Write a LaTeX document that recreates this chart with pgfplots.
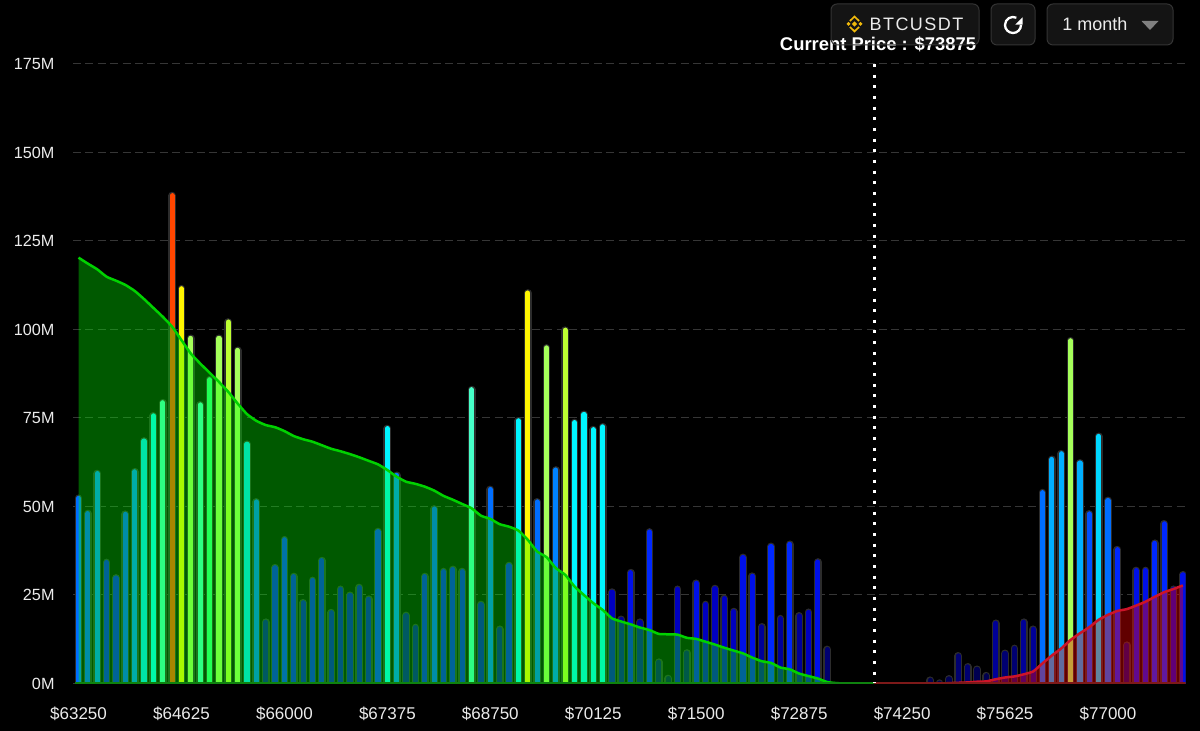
\documentclass[border=0pt]{standalone}
\usepackage{fontspec}
\setmainfont{Liberation Sans}
\usepackage{pgfplots}
\usepackage{pgfplotstable}
\pgfplotsset{compat=1.18}
\definecolor{ca}{RGB}{0,0,80}
\definecolor{cb}{RGB}{0,0,112}
\definecolor{cc}{RGB}{0,0,152}
\definecolor{cd}{RGB}{0,0,192}
\definecolor{ce}{RGB}{0,16,232}
\definecolor{cf}{RGB}{0,40,255}
\definecolor{cg}{RGB}{0,80,255}
\definecolor{ch}{RGB}{0,110,255}
\definecolor{ci}{RGB}{0,130,255}
\definecolor{cj}{RGB}{0,175,255}
\definecolor{ck}{RGB}{0,215,255}
\definecolor{cl}{RGB}{0,245,255}
\definecolor{cm}{RGB}{70,255,200}
\definecolor{cn}{RGB}{50,255,130}
\definecolor{co}{RGB}{165,255,90}
\definecolor{cp}{RGB}{190,255,50}
\definecolor{cq}{RGB}{255,245,0}
\definecolor{cr}{RGB}{255,70,0}
\pgfplotstableread{
i v
0 120.3
1 118.6
2 117
3 114.9
4 113.8
5 112.6
6 110.9
7 108.6
8 106.1
9 103.6
10 100.8
11 97
12 93.2
13 90.4
14 87.8
15 85.2
16 82.4
17 79.1
18 76.1
19 74.2
20 73
21 72.4
22 71.3
23 69.9
24 69
25 68.3
26 67.3
27 66.3
28 65.6
29 64.8
30 63.9
31 62.9
32 61.9
33 60.3
34 58.4
35 57
36 56.4
37 55.6
38 54.5
39 53
40 51.9
41 50.7
42 49.5
43 47.4
44 46.5
45 45
46 44.3
47 43.2
48 40.6
49 37.3
50 35.7
51 32.6
52 30.7
53 27.4
54 25
55 22.7
56 20.8
57 18.4
58 17.5
59 16.7
60 15.8
61 15.1
62 14
63 13.9
64 13.8
65 12.9
66 12.6
67 11.8
68 11
69 10.1
70 9.3
71 8.5
72 7.3
73 6.3
74 5.8
75 4.5
76 4
77 2.8
78 2.1
79 1.4
80 0.4
81 0.1
82 0
85 0
}\greencum
\pgfplotstableread{
i v
85 0
92 0
93 0.1
94 0.2
95 0.3
96 0.5
97 0.6
98 1.2
99 1.7
100 2
101 2.6
102 3.4
103 5.7
104 7.9
105 9.9
106 12.3
107 14.2
108 15.9
109 18
110 19.4
111 20.5
112 21
113 22
114 23.1
115 24.5
116 25.8
117 26.7
118 27.7
}\redcum
\newcommand\cls[2]{%
  \addplot[ycomb,no marks,line cap=round,line width=3.9pt,color=barline,yshift=-1.25pt] coordinates {#2};
  \addplot[ycomb,no marks,line cap=round,line width=2.6pt,color=#1,yshift=-1.25pt] coordinates {#2};
}
\definecolor{barline}{RGB}{44,44,44}
\definecolor{btnfill}{RGB}{20,20,20}
\definecolor{btnline}{RGB}{52,52,52}
\definecolor{gold}{RGB}{240,185,11}
\begin{document}
\begin{tikzpicture}[x=0.5pt,y=0.5pt]
\fill[black] (0,0) rectangle (1200,731);
\begin{axis}[
  at={(36.45pt,23.75pt)},anchor=south west,
  scale only axis,width=556.4pt,height=309.75pt,
  xmin=-0.6,xmax=118.3,ymin=0,ymax=175,
  axis x line=bottom,axis y line=left,
  axis line style={draw=none,-},
  xtick={0,11,22,33,44,55,66,77,88,99,110},
  xticklabels={\$63250,\$64625,\$66000,\$67375,\$68750,\$70125,\$71500,\$72875,\$74250,\$75625,\$77000},
  xticklabel style={text=white!92!black,font=\fontsize{8.5}{9}\selectfont,yshift=-8pt},
  major tick length=0pt,
  ytick={0,25,50,75,100,125,150,175},
  yticklabels={0M,25M,50M,75M,100M,125M,150M,175M},
  yticklabel style={text=white!92!black,font=\fontsize{8.1}{9}\selectfont,inner sep=0pt,anchor=east,xshift=-9pt},
  ymajorgrids,
  grid style={draw=white!21!black,line width=0.5pt,dash pattern=on 4pt off 2.2pt},
]
\cls{ca}{(63,2.1)(91,1.6)(92,0.8)(93,2)(96,4.7)(97,2.9)}
\cls{cb}{(62,6.7)(65,9.3)(80,10.3)(94,8.5)(95,5.4)(99,9.2)(100,10.6)(112,11.5)}
\cls{cc}{(20,18)(35,19.9)(36,16.5)(45,16)(58,18.8)(60,18)(73,16.7)(75,19)(77,19.8)(98,17.7)(101,18)(102,16)}
\cls{cd}{(24,23.5)(27,20.7)(28,27.3)(29,25.6)(30,27.8)(31,24.5)(43,23)(57,26.5)(64,27.3)(67,23)(68,27.5)(69,24.7)(70,21)(78,20.8)(117,27.3)}
\cls{ce}{(3,34.9)(4,30.5)(21,33.4)(23,30.9)(25,29.8)(26,35.4)(37,30.9)(39,32.3)(40,32.9)(41,32.3)(46,34)(59,32)(66,29)(71,36.3)(72,31)(79,35)(113,32.6)(114,32.6)(118,31.4)}
\cls{cf}{(22,41.3)(32,43.6)(61,43.5)(74,39.4)(76,40)(111,38.5)(115,40.3)(116,45.8)}
\cls{cg}{(1,48.7)(5,48.5)(38,50)(108,48.6)}
\cls{ch}{(0,53)(19,52)(44,55.5)(49,52)(103,54.6)(110,52.4)}
\cls{ci}{(2,60)(6,60.5)(34,59.5)(51,61)}
\cls{cj}{(104,64)(105,65.6)(107,63)}
\cls{ck}{(7,69.2)(18,68.3)(109,70.5)}
\cls{cl}{(8,76.3)(33,72.7)(47,74.9)(53,74.4)(54,76.7)(55,72.4)(56,73.2)}
\cls{cm}{(9,80)(13,79.4)(42,83.7)}
\cls{cn}{(14,86.5)}
\cls{co}{(12,98.2)(15,98.2)(17,94.8)(50,95.5)(106,97.5)}
\cls{cp}{(16,102.8)(52,100.5)}
\cls{cq}{(11,112.2)(48,111)}
\cls{cr}{(10,138.5)}
\addplot[draw=none,fill={rgb,255:red,0;green,255;blue,0},fill opacity=0.35] table[x=i,y=v] {\greencum} \closedcycle;
\addplot[no marks,smooth,tension=0.3,color={rgb,255:red,0;green,210;blue,0},line width=1.25pt,line join=round] table[x=i,y=v] {\greencum};
\addplot[draw=none,fill={rgb,255:red,255;green,0;blue,0},fill opacity=0.38] table[x=i,y=v] {\redcum} \closedcycle;
\addplot[no marks,smooth,tension=0.3,color={rgb,255:red,205;green,20;blue,40},line width=1.25pt,line join=round] table[x=i,y=v] {\redcum};
\addplot[no marks,color={rgb,255:red,15;green,130;blue,15},line width=1.5pt] coordinates {(-0.4,0)(85,0)};
\addplot[no marks,color={rgb,255:red,125;green,25;blue,25},line width=1.5pt] coordinates {(85,0)(118.3,0)};
\addplot[no marks,white,line width=1.5pt,dash pattern=on 1.5pt off 3.83pt] coordinates {(85,175)(85,0)};
\end{axis}
% buttons
\fill[btnfill,rounded corners=3pt] (831,731-4) rectangle (979,731-45);
\fill[btnfill,rounded corners=3pt] (991,731-4) rectangle (1035,731-45);
\fill[btnfill,rounded corners=3pt] (1047,731-4) rectangle (1173,731-45);
\node[anchor=center,inner sep=0pt,text=white!92!black,font=\addfontfeatures{LetterSpace=8}\fontsize{9}{10}\selectfont] at (916.5,731-24.5) {BTCUSDT};
% exchange logo
\begin{scope}[shift={(854.5,731-24)}]
  \fill[gold] (0,2.6) -- (2.6,0) -- (0,-2.6) -- (-2.6,0) -- cycle;
  \fill[gold] (-8,0) -- (-6,2) -- (-4,0) -- (-6,-2) -- cycle;
  \fill[gold] (8,0) -- (6,2) -- (4,0) -- (6,-2) -- cycle;
  \draw[gold,line width=0.85pt] (-4.6,3) -- (0,7.4) -- (4.6,3);
  \draw[gold,line width=0.85pt] (-4.6,-3) -- (0,-7.4) -- (4.6,-3);
\end{scope}
% refresh icon
\draw[white,line width=1.15pt] (1021,731-25) arc[start angle=0,end angle=-295,radius=8];
\fill[white] (1022.7,731-17.3) -- (1022.7,731-24.6) -- (1015.4,731-24.6) -- cycle;
\node[anchor=center,inner sep=0pt,text=white!92!black,font=\fontsize{9}{10}\selectfont] at (1095,731-24.5) {1 month};
\fill[white!50!black] (1141.5,731-21) -- (1158.5,731-21) -- (1150,731-30) -- cycle;
\node[anchor=center,inner sep=0pt,text=white,font=\bfseries\fontsize{9.2}{10}\selectfont] at (878,731-44) {Current Price : \$73875};
\draw[btnline,line width=0.5pt,rounded corners=3pt] (831,731-4) rectangle (979,731-45);
\draw[btnline,line width=0.5pt,rounded corners=3pt] (991,731-4) rectangle (1035,731-45);
\draw[btnline,line width=0.5pt,rounded corners=3pt] (1047,731-4) rectangle (1173,731-45);
\end{tikzpicture}
\end{document}
